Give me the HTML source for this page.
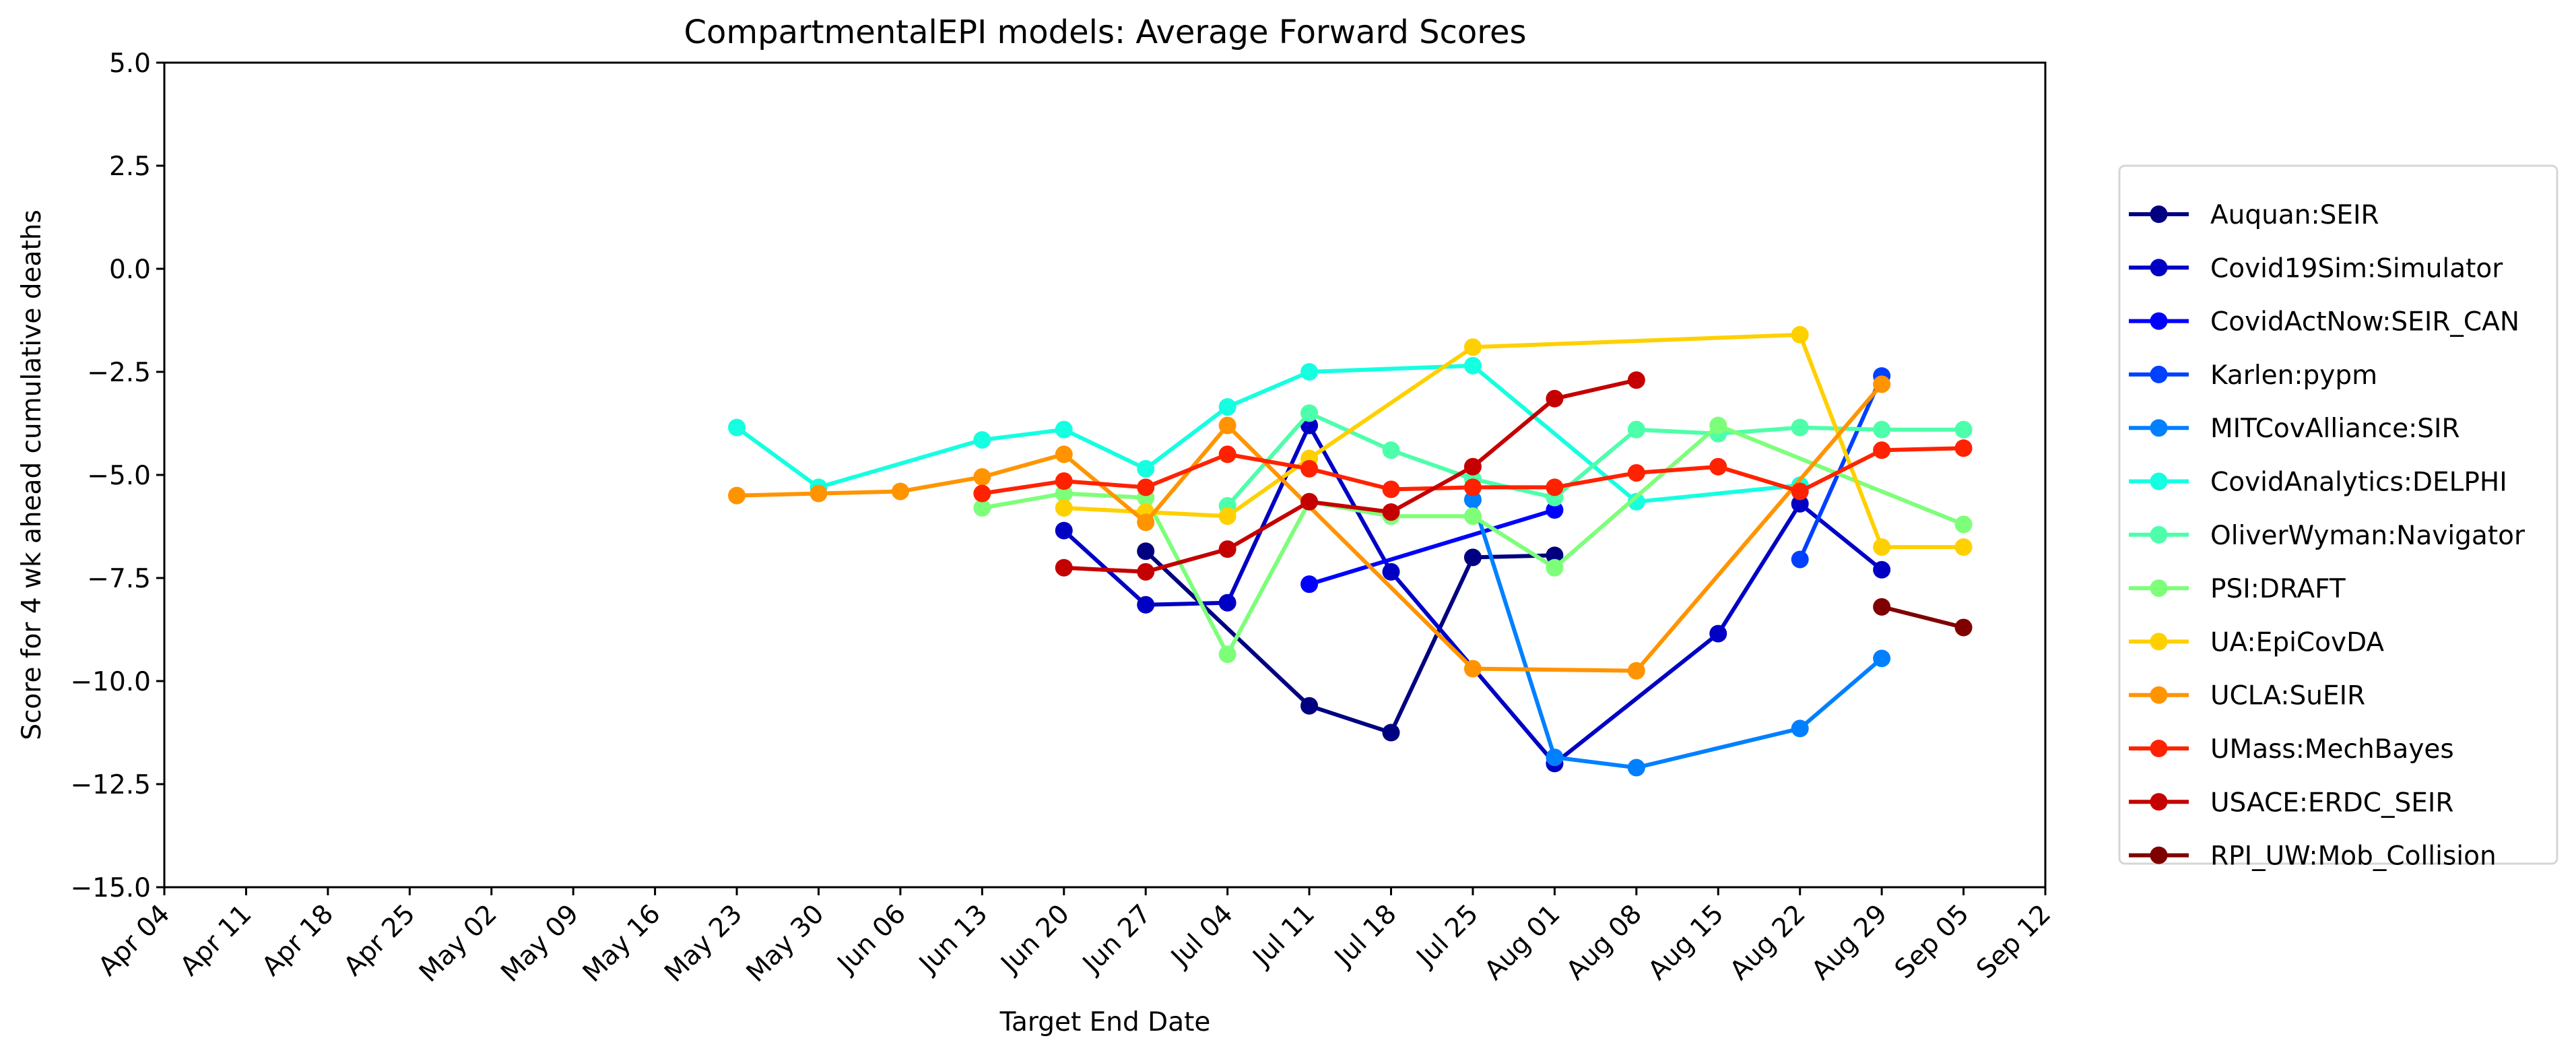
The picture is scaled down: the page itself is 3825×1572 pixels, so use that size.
<!DOCTYPE html>
<html><head><meta charset="utf-8"><style>
html,body{margin:0;padding:0;background:#fff;}
svg{display:block;font-family:"DejaVu Sans","Liberation Sans",sans-serif;}
</style></head><body>
<svg id="chart" width="3825" height="1572" viewBox="0 0 3825 1572" xmlns="http://www.w3.org/2000/svg">
<rect width="3825" height="1572" fill="#fff"/>
<text x="1641" y="64" font-size="48" text-anchor="middle">CompartmentalEPI models: Average Forward Scores</text>
<text x="1641" y="1530" font-size="39" text-anchor="middle">Target End Date</text>
<text transform="translate(60,705) rotate(-90)" font-size="39" text-anchor="middle">Score for 4 wk ahead cumulative deaths</text>
<g id="plot"></g>
<g id="axes"></g>
<g id="legend"></g>
</svg>
<script>
const xTickLabels = ["Apr 04","Apr 11","Apr 18","Apr 25","May 02","May 09","May 16","May 23","May 30","Jun 06","Jun 13","Jun 20","Jun 27","Jul 04","Jul 11","Jul 18","Jul 25","Aug 01","Aug 08","Aug 15","Aug 22","Aug 29","Sep 05","Sep 12"];
const yTicks = [5,2.5,0,-2.5,-5,-7.5,-10,-12.5,-15];
const yTickLabels = ["5.0","2.5","0.0","\u22122.5","\u22125.0","\u22127.5","\u221210.0","\u221212.5","\u221215.0"];
const seriesNames = ["Auquan:SEIR","Covid19Sim:Simulator","CovidActNow:SEIR_CAN","Karlen:pypm","MITCovAlliance:SIR","CovidAnalytics:DELPHI","OliverWyman:Navigator","PSI:DRAFT","UA:EpiCovDA","UCLA:SuEIR","UMass:MechBayes","USACE:ERDC_SEIR","RPI_UW:Mob_Collision"];
const seriesColors = ["#000080","#0000c4","#0000ff","#0040ff","#0080ff","#15ffe1","#4dffaa","#7dff7a","#ffd000","#ff9400","#ff2200","#c40000","#800000"];
// week index (0 = Apr 04) and score
const auquanWeeks = [12,14,15,16,17];
const auquanScores = [-6.85,-10.6,-11.25,-7.0,-6.95];
const covid19simWeeks = [11,12,13,14,15,17,19,20,21];
const covid19simScores = [-6.35,-8.15,-8.1,-3.8,-7.35,-12.0,-8.85,-5.7,-7.3];
const canWeeks = [14,17];
const canScores = [-7.65,-5.85];
const karlenWeeks = [20,21];
const karlenScores = [-7.05,-2.6];
const mitWeeks = [16,17,18,20,21];
const mitScores = [-5.6,-11.85,-12.1,-11.15,-9.45];
const delphiWeeks = [7,8,10,11,12,13,14,16,18,20];
const delphiScores = [-3.85,-5.3,-4.15,-3.9,-4.85,-3.35,-2.5,-2.35,-5.65,-5.25];
const owWeeks = [13,14,15,16,17,18,19,20,21,22];
const owScores = [-5.75,-3.5,-4.4,-5.1,-5.55,-3.9,-4.0,-3.85,-3.9,-3.9];
const psiWeeks = [10,11,12,13,14,15,16,17,19,22];
const psiScores = [-5.8,-5.45,-5.55,-9.35,-5.65,-6.0,-6.0,-7.25,-3.8,-6.2];
const uaWeeks = [11,12,13,14,16,20,21,22];
const uaScores = [-5.8,-5.9,-6.0,-4.6,-1.9,-1.6,-6.75,-6.75];
const uclaWeeks = [7,8,9,10,11,12,13,16,18,21];
const uclaScores = [-5.5,-5.45,-5.4,-5.05,-4.5,-6.15,-3.8,-9.7,-9.75,-2.8];
const umassWeeks = [10,11,12,13,14,15,16,17,18,19,20,21,22];
const umassScores = [-5.45,-5.15,-5.3,-4.5,-4.85,-5.35,-5.3,-5.3,-4.95,-4.8,-5.4,-4.4,-4.35];
const usaceWeeks = [11,12,13,14,15,16,17,18];
const usaceScores = [-7.25,-7.35,-6.8,-5.65,-5.9,-4.8,-3.15,-2.7];
const rpiWeeks = [21,22];
const rpiScores = [-8.2,-8.7];

const allWeeks = [auquanWeeks,covid19simWeeks,canWeeks,karlenWeeks,mitWeeks,delphiWeeks,owWeeks,psiWeeks,uaWeeks,uclaWeeks,umassWeeks,usaceWeeks,rpiWeeks];
const allScores = [auquanScores,covid19simScores,canScores,karlenScores,mitScores,delphiScores,owScores,psiScores,uaScores,uclaScores,umassScores,usaceScores,rpiScores];

const NS = "http://www.w3.org/2000/svg";
const L = 244, R = 3037, T = 93, B = 1317;
function xs(w){ return L + (R - L) * w / (xTickLabels.length - 1); }
function ys(v){ return T + (B - T) * (5 - v) / 20; }
function mk(tag, attrs, parent){ const e = document.createElementNS(NS, tag); for (const k in attrs) e.setAttribute(k, attrs[k]); parent.appendChild(e); return e; }

const plot = document.getElementById('plot');
for (let s = 0; s < seriesNames.length; s++) {
  const g = mk('g', {}, plot);
  
  
  const pts = allWeeks[s].map((w, i) => xs(w).toFixed(1) + ',' + ys(allScores[s][i]).toFixed(1)).join(' ');
  const pl = mk('polyline', {points: pts, fill: 'none', stroke: seriesColors[s], 'stroke-width': 6, 'stroke-linejoin': 'round'}, g);
  
  
  allWeeks[s].forEach((w, i) => {
    const c = mk('circle', {cx: xs(w), cy: ys(allScores[s][i]), r: 13, fill: seriesColors[s]}, g);
    
    
  });
}

const axes = document.getElementById('axes');
const frame = mk('rect', {x: L, y: T, width: R - L, height: B - T, fill: 'none', stroke: '#000', 'stroke-width': 3}, axes);


yTicks.forEach((v, i) => {
  const t = mk('line', {x1: L - 12, x2: L, y1: ys(v), y2: ys(v), stroke: '#000', 'stroke-width': 3}, axes);
  
  
  const lb = mk('text', {x: L - 20, y: ys(v) + 14, 'font-size': 39, 'text-anchor': 'end'}, axes);
  lb.textContent = yTickLabels[i];
  
  
});
xTickLabels.forEach((lab, i) => {
  const x = xs(i);
  const t = mk('line', {x1: x, x2: x, y1: B, y2: B + 12, stroke: '#000', 'stroke-width': 3}, axes);
  
  
  const lb = mk('text', {transform: 'translate(' + (x + 10) + ',' + (B + 42) + ') rotate(-45)', 'font-size': 39, 'text-anchor': 'end'}, axes);
  lb.textContent = lab;
  
  
});

const leg = document.getElementById('legend');
const box = mk('rect', {x: 3147, y: 246, width: 650, height: 1036, rx: 8, fill: '#fff', stroke: '#d6d6d6', 'stroke-width': 3}, leg);


seriesNames.forEach((n, i) => {
  const y = 318 + i * 79.3;
  const g = mk('g', {}, leg);
  
  
  mk('line', {x1: 3161, x2: 3250, y1: y, y2: y, stroke: seriesColors[i], 'stroke-width': 6}, g);
  mk('circle', {cx: 3205.5, cy: y, r: 13, fill: seriesColors[i]}, g);
  const t = mk('text', {x: 3282, y: y + 14, 'font-size': 39}, g);
  t.textContent = n;
});
</script>
</body></html>
